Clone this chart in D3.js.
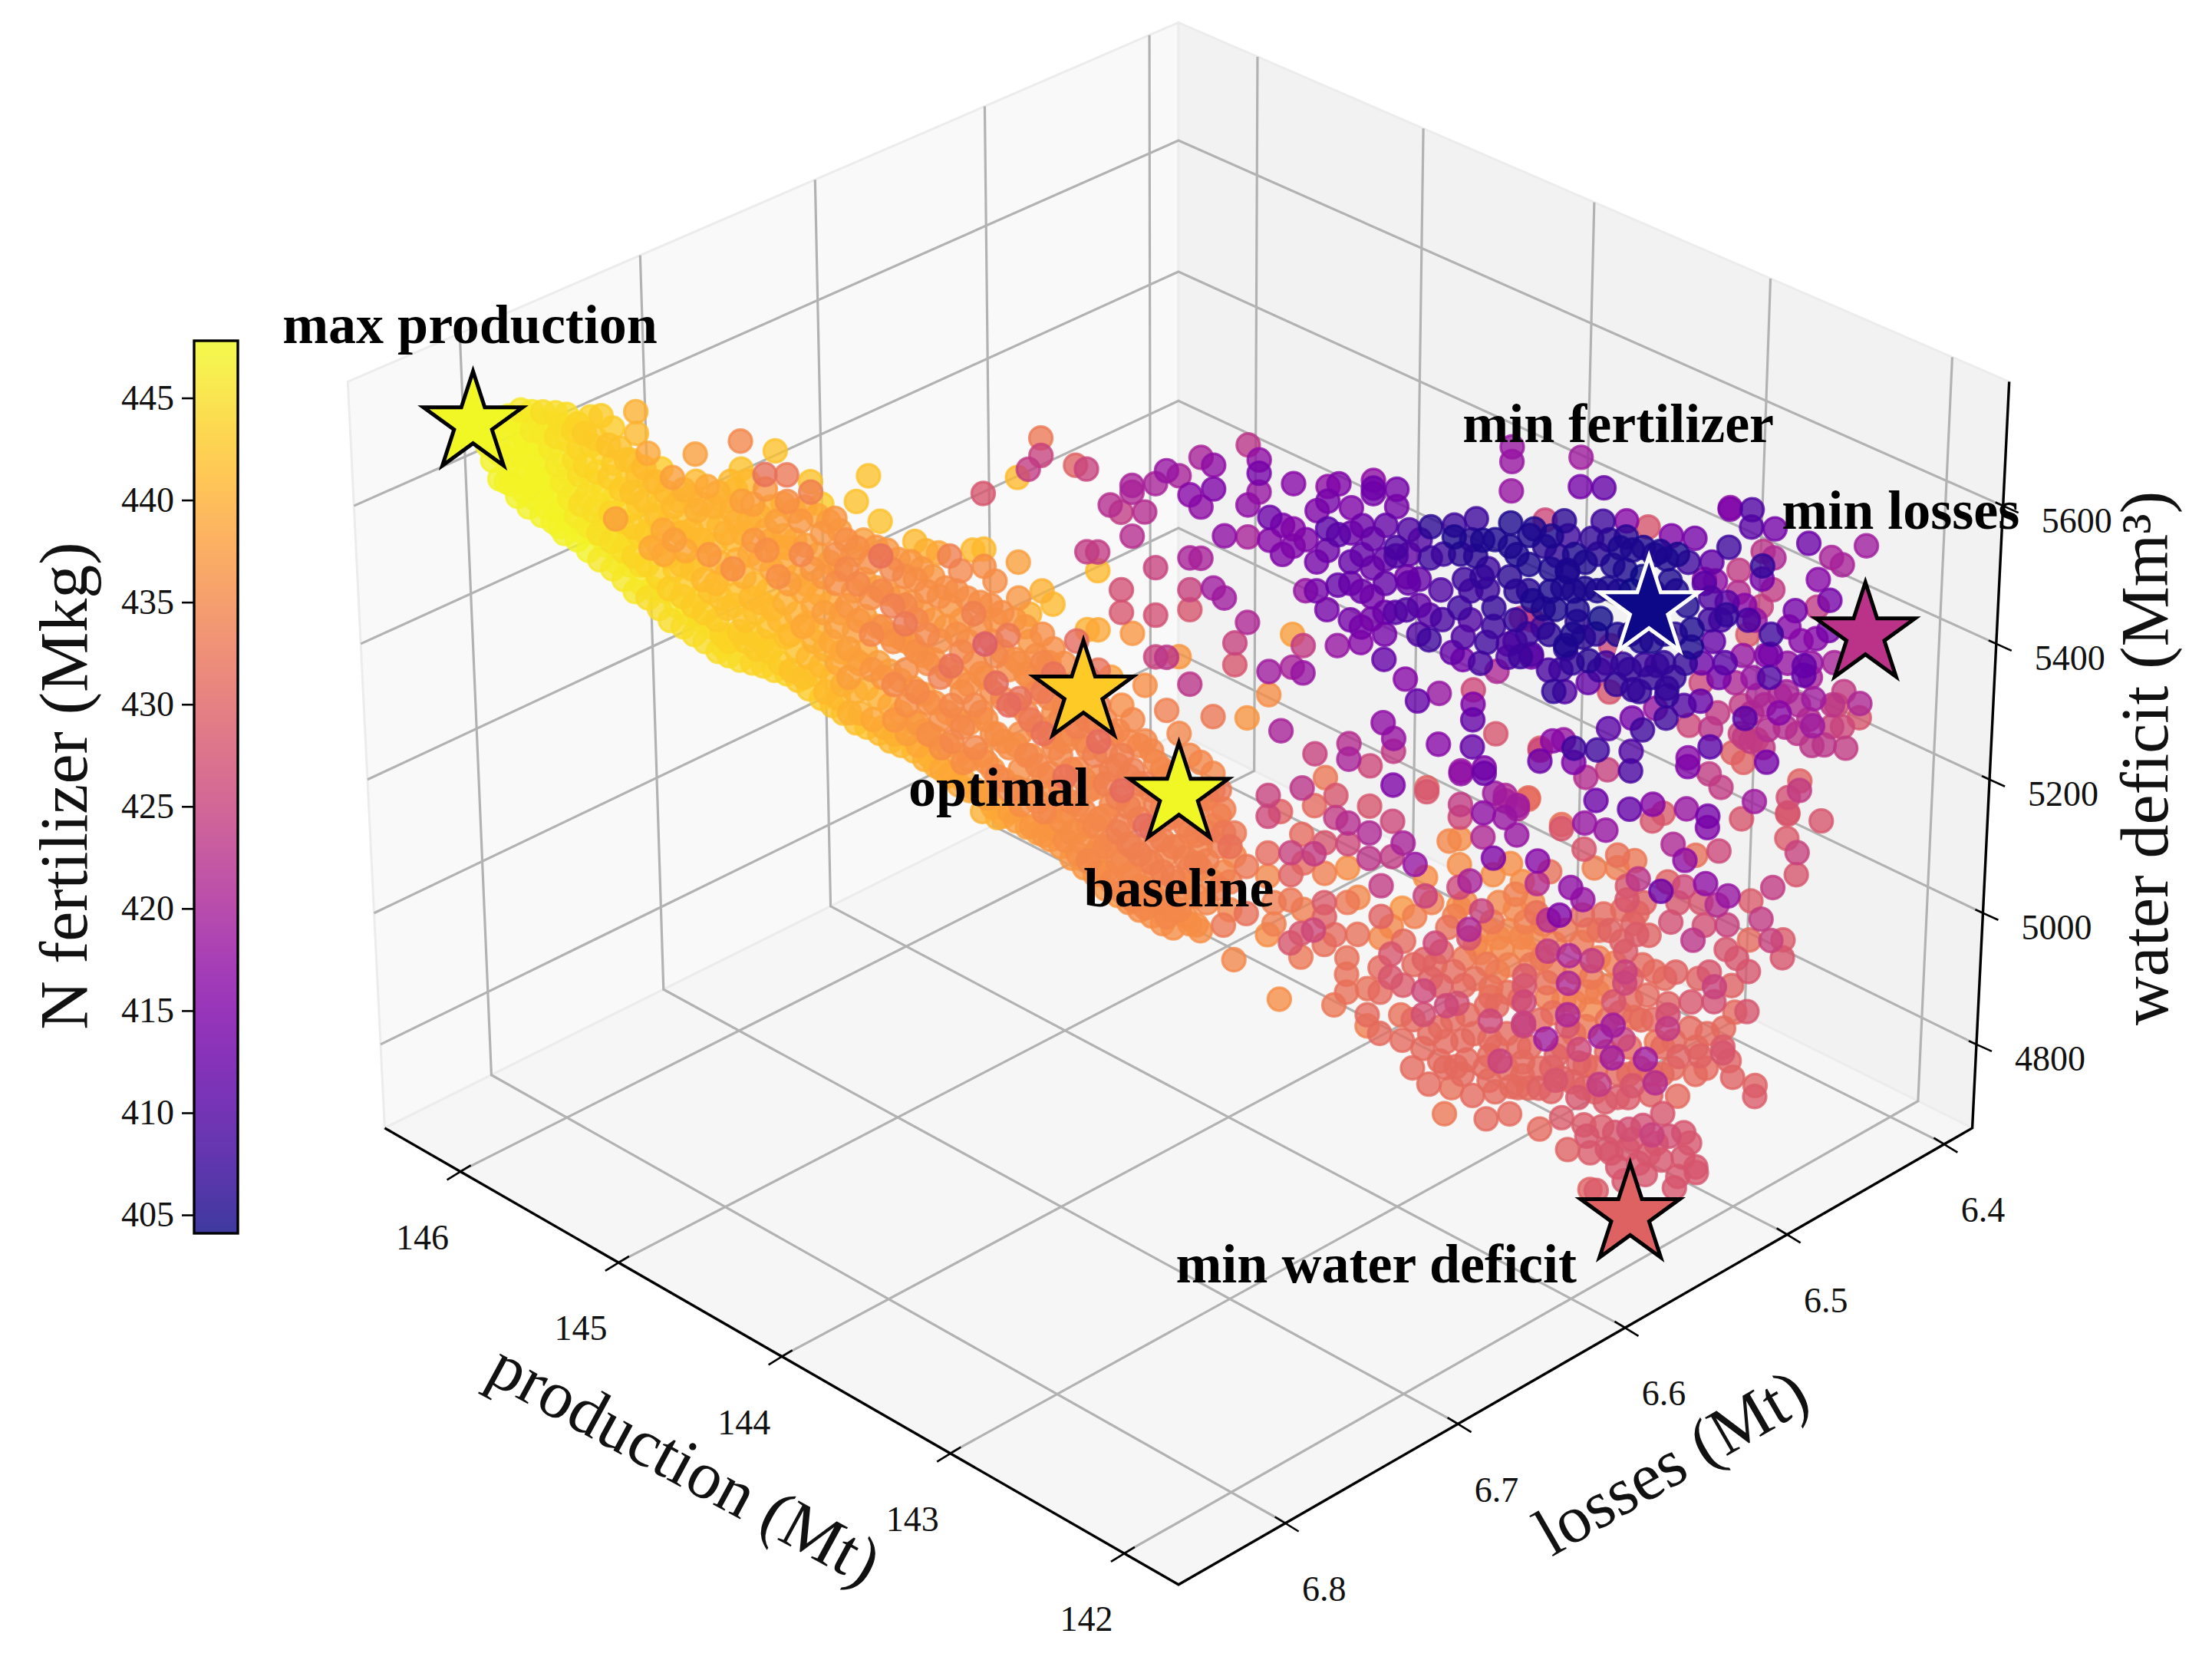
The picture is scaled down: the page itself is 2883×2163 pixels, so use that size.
<!DOCTYPE html>
<html><head><meta charset="utf-8">
<script src="https://cdn.jsdelivr.net/npm/d3@7/dist/d3.min.js"></script>
<style>html,body{margin:0;padding:0;background:#fff}svg{display:block}text{font-family:"Liberation Serif",serif}</style>
</head><body><svg id="c" width="2883" height="2163"></svg>
<script>
const productionTicks=[146,145,144,143,142];
const lossesTicks=[6.4,6.5,6.6,6.7,6.8];
const waterTicks=[4800,5000,5200,5400,5600];
const fertilizerTicks=[405,410,415,420,425,430,435,440,445];
// each row: production, losses, [water, fertilizer, water, fertilizer, ...]
const columns=[
[146.091,6.821,[5723,447,5687,447]],
[146.058,6.818,[5718,447,5676,447,5639,447]],
[146.024,6.815,[5729,447,5695,447,5662,447,5632,447]],
[145.991,6.811,[5737,446,5704,447,5670,447,5620,447]],
[145.958,6.808,[5735,446,5708,446,5674,447,5641,447,5611,447]],
[145.924,6.805,[5735,445,5704,446,5666,447,5632,447,5599,447]],
[145.891,6.801,[5733,445,5699,445,5658,446,5624,447,5591,447,5570,447]],
[145.858,6.798,[5731,445,5695,445,5649,446,5611,446,5578,447]],
[145.824,6.795,[5718,444,5683,444,5645,445,5603,445,5565,447]],
[145.791,6.791,[5727,444,5687,444,5635,445,5593,445,5561,447]],
[145.758,6.788,[5729,443,5676,444,5624,445,5578,446,5544,447]],
[145.724,6.785,[5712,443,5662,443,5614,445,5582,438,5551,446,5519,447]],
[145.691,6.781,[5666,442,5635,443,5593,444,5551,445,5515,446]],
[145.657,6.778,[5735,440,5704,441,5645,442,5603,443,5557,444,5515,445,5488,446]],
[145.624,6.775,[5676,439,5635,442,5586,443,5540,439,5481,446]],
[145.591,6.771,[5653,443,5607,443,5565,439,5530,439,5477,446]],
[145.557,6.768,[5641,438,5599,441,5551,438,5509,443,5456,446]],
[145.524,6.765,[5624,440,5578,442,5536,439,5488,443,5446,446]],
[145.491,6.761,[5674,438,5635,441,5593,440,5551,441,5519,442,5467,444,5435,446]],
[145.457,6.758,[5628,439,5582,441,5530,437,5477,442,5425,445]],
[145.424,6.755,[5620,440,5572,441,5519,440,5467,442,5414,444,5398,445]],
[145.391,6.751,[5635,441,5593,440,5551,441,5509,436,5456,442,5410,444]],
[145.357,6.748,[5693,435,5653,442,5607,438,5561,440,5498,440,5435,442,5404,443]],
[145.324,6.745,[5603,438,5551,437,5488,441,5446,442,5393,443]],
[145.290,6.741,[5645,432,5624,437,5565,439,5536,436,5477,441,5425,442,5389,443]],
[145.257,6.738,[5679,442,5578,438,5540,440,5498,436,5435,441,5372,443]],
[145.224,6.735,[5645,433,5607,436,5540,439,5488,438,5414,441,5362,442]],
[145.190,6.731,[5578,437,5530,435,5477,439,5425,439,5351,442]],
[145.157,6.728,[5635,442,5620,434,5509,437,5456,439,5404,440,5356,442]],
[145.124,6.725,[5603,443,5561,437,5498,437,5446,438,5393,440,5330,441]],
[145.090,6.721,[5582,437,5530,436,5488,436,5425,438,5372,439,5320,441]],
[145.057,6.718,[5551,436,5509,435,5456,437,5393,438,5351,438,5299,440]],
[145.023,6.715,[5607,442,5540,436,5488,435,5435,437,5372,438,5299,440]],
[144.990,6.711,[5643,442,5519,436,5467,436,5414,435,5362,437,5289,439]],
[144.957,6.708,[5578,442,5528,432,5477,435,5425,436,5351,437,5278,440]],
[144.923,6.705,[5509,435,5456,434,5404,436,5341,435,5289,437,5268,440]],
[144.890,6.701,[5498,436,5456,435,5429,433,5404,437,5362,436,5310,436,5268,438]],
[144.857,6.698,[5549,441,5494,436,5435,435,5389,436,5330,435,5284,437,5251,439]],
[144.823,6.695,[5536,440,5477,436,5414,435,5372,436,5314,436,5268,436,5236,440]],
[144.790,6.691,[5532,439,5469,436,5404,436,5351,434,5289,436,5247,436,5215,439]],
[144.756,6.688,[5528,434,5456,437,5368,432,5310,435,5257,435,5209,439]],
[144.723,6.685,[5507,435,5435,437,5389,435,5330,436,5278,435,5226,436,5200,439]],
[144.690,6.681,[5536,441,5444,434,5372,436,5310,435,5247,435,5184,439]],
[144.656,6.678,[5618,428,5538,441,5513,436,5400,429,5351,436,5289,436,5226,436,5173,438]],
[144.623,6.675,[5492,436,5435,437,5383,435,5343,431,5268,436,5205,435,5144,440]],
[144.590,6.671,[5412,433,5362,436,5310,431,5247,436,5184,435,5152,438]],
[144.556,6.668,[5641,441,5519,438,5467,437,5372,436,5320,432,5268,436,5215,436,5163,436]],
[144.523,6.665,[5653,424,5444,440,5404,437,5351,436,5289,433,5236,436,5184,436,5131,437]],
[144.489,6.661,[5697,433,5672,425,5477,440,5414,436,5372,435,5330,433,5268,432,5205,436,5152,435,5117,437]],
[144.456,6.658,[5458,441,5393,436,5356,432,5299,436,5247,435,5184,436,5127,437]],
[144.423,6.655,[5372,436,5310,435,5257,436,5205,432,5152,436,5110,436]],
[144.389,6.651,[5658,430,5404,431,5330,435,5278,434,5215,435,5163,436,5123,437,5089,436]],
[144.356,6.648,[5653,425,5534,424,5421,440,5351,431,5289,434,5247,435,5184,435,5131,436,5079,435]],
[144.323,6.645,[5534,424,5507,441,5421,439,5362,432,5310,434,5257,431,5205,435,5142,435,5100,436,5062,436]],
[144.289,6.641,[5601,422,5351,438,5268,435,5215,434,5163,435,5110,435,5047,435]],
[144.256,6.638,[5591,424,5479,427,5446,428,5310,436,5236,434,5184,431,5131,434,5079,435,5033,435]],
[144.222,6.635,[5630,420,5620,421,5557,422,5416,437,5289,435,5215,434,5163,435,5100,434,5058,435,5020,435]],
[144.189,6.631,[5591,422,5339,436,5257,435,5194,434,5131,431,5079,435,5037,435,5008,435]],
[144.156,6.628,[5632,420,5511,425,5442,427,5381,425,5226,435,5163,434,5110,434,5058,435,5016,435]],
[144.122,6.625,[5651,418,5381,423,5303,434,5205,435,5142,434,5089,435,5037,435,4995,435]],
[144.089,6.621,[5643,420,5381,437,5268,435,5184,435,5100,435,5047,435,5005,435]],
[144.056,6.618,[5616,416,5525,420,5479,425,5450,428,5341,423,5236,435,5121,435,5068,435,4984,436]],
[144.022,6.615,[5670,420,5599,417,5525,420,5226,435,5171,435,5100,435,5068,435,4974,436]],
[143.989,6.611,[5658,417,5624,415,5481,419,5293,433,5209,435,5184,434,5131,435,5047,435]],
[143.955,6.608,[5557,417,5467,419,5156,434,5121,433,5062,435,4982,433]],
[143.922,6.605,[5402,425,5370,428,5121,433,5087,435,4930,435]],
[143.889,6.601,[5687,423,5601,417,5555,420,5431,421,5291,437,5070,433,4999,432]],
[143.855,6.598,[5666,417,5647,414,5620,418]],
[143.822,6.595,[5584,413,5551,416,5360,419,5326,436,5177,425,5146,426,5091,431,5056,435,4968,436]],
[143.789,6.591,[5272,420,5152,430,4869,436]],
[143.755,6.588,[5632,416,5567,416,5542,415,5414,438,5366,420,5091,425,5058,430,5020,433,4955,428]],
[143.722,6.585,[5398,424,5358,418,5188,423,5119,431,4970,428,4934,433]],
[143.688,6.581,[5238,425,5161,431,5089,424,4974,426]],
[143.655,6.578,[5628,417,5607,414,5567,411,5536,413,5450,414,5203,433,5106,428,5060,434,5016,429]],
[143.622,6.575,[5632,415,5559,411,5486,412,5398,418,5177,428,5144,424,4968,431,4861,433]],
[143.588,6.571,[5597,415,5519,412,5253,422,5230,420,5135,422,5104,426,5068,436,4907,432]],
[143.555,6.568,[5402,416,5024,435,4968,432]],
[143.522,6.565,[5637,417,5626,413,5618,414,5553,412,5511,413,5469,414,5437,414,5221,426,5161,428,5121,421,5083,423,4886,432,4846,431,4829,434]],
[143.488,6.561,[5523,412,5377,412,5284,417,5041,424,4917,431]],
[143.455,6.558,[5624,414,5599,414,5540,409,5528,410,5446,411,5261,418,5242,424,5192,415,5138,426,5085,424,4980,435,4938,428,4903,428]],
[143.421,6.555,[5498,414,5450,410,5349,416,5106,420,5008,437,4846,432]],
[143.388,6.551,[5494,412,5316,412,5073,418]],
[143.355,6.548,[5570,406,5525,408,5442,411,5406,408,5188,430,5182,428,5054,436,5026,425,4930,430,4882,426,4846,427,4794,431]],
[143.321,6.545,[5479,410,5328,418,5253,416,4955,426,4922,431]],
[143.288,6.541,[5572,408,5555,405,5387,412,5108,435,4978,432,4859,426,4804,431,4764,431]],
[143.255,6.538,[5494,408,5410,410,5377,414,5213,418,5209,417,5163,424,5144,426,5112,436,5073,436,5039,426,5010,436,4863,427,4766,431]],
[143.221,6.535,[5582,408,5528,406,5333,426,5312,415,5289,412,5249,412,5049,420,4976,421,4963,428,4846,431,4777,431]],
[143.188,6.531,[5509,408,5479,408,5402,408,5217,415,5209,413,5150,417,5114,421,5003,425,4940,436]],
[143.154,6.528,[5360,421,5268,428,5180,419,5083,415,5058,436,4987,433,4888,432,4873,432,4836,426,4808,431,4783,431,4745,431]],
[143.121,6.525,[5685,418,5664,418,5622,418,5576,405,5542,405,5498,406,5400,410,5381,410,5177,421,5169,420,5144,418,4947,435,4775,425]],
[143.088,6.521,[5437,424,5381,408,5161,419,5156,421,5117,418,5028,434,5005,435,4735,431]],
[143.054,6.518,[5567,405,5463,405,5435,428,5385,410,5381,414,5173,431,5171,432,4987,434,4945,435,4905,429,4890,428,4865,426,4833,425,4829,425,4773,431,4752,431]],
[143.021,6.515,[5580,426,5542,406,5452,405,5425,408,5247,429,5244,426,5228,413,5079,416,5045,422,5001,432]],
[142.988,6.511,[5528,407,5450,405,5330,407,5257,416,5062,432,4989,422,4942,424,4894,432,4871,434,4808,419]],
[142.954,6.508,[5557,408,5507,405,5505,405,5398,405,5393,407,5330,410,5259,418,5133,432,5127,428,4997,415,4783,430,4745,428]],
[142.921,6.505,[5670,419,5628,414,5450,405,5433,406,5247,408,5226,415,5039,417,4936,421,4894,421,4846,421,4829,428]],
[142.887,6.501,[5553,407,5375,406,5343,412,5203,422,5135,418,5096,428,5020,418,4997,431,4955,433,4792,426,4771,430,4718,428]],
[142.854,6.498,[5626,412,5578,408,5437,404,5362,408,5244,408,5169,413,5068,434,4928,424,4903,433,4854,435]],
[142.821,6.495,[5515,405,5398,426,5330,428,5276,411,5215,425,5125,418,4999,431,4813,419,4739,424]],
[142.787,6.491,[5578,416,5555,406,5507,405,5370,407,5087,432,5068,434,4924,434,4865,428,4829,419,4779,419]],
[142.754,6.488,[5333,407,5291,414,5242,410,5213,409,5156,412,5041,428,5020,428,4942,429,4911,425,4894,426,4808,425]],
[142.721,6.485,[5570,428,5370,408,5274,408,5052,423,5001,431,4968,429,4842,434,4737,428]],
[142.687,6.481,[5534,405,5368,408,5305,418,5163,416,5138,428,4966,430,4875,431,4777,419]],
[142.654,6.478,[5557,415,5492,405,5335,407,5324,407,5291,408,5150,429,5033,413,4804,433,4741,422]],
[142.620,6.475,[5104,421,4987,427,4863,430,4846,427,4825,424]],
[142.587,6.471,[5553,414,5421,405,5395,405,5280,426,5232,416,5219,415,5156,418,5079,417,5039,426,4781,430,4720,431]],
[142.554,6.468,[5494,418,5488,411,5372,413,5343,426,5316,412,5087,432,4959,423,4865,428,4825,431]],
[142.520,6.465,[5492,417,5404,412,5276,423,5249,411,5209,424,5146,414,5129,415,5045,417,4982,427,4783,430]],
[142.487,6.461,[5597,417,5595,415,5540,408,5460,411,5442,407,5372,411,5188,424,5093,426,5012,422,4888,425,4865,427]],
[142.454,6.458,[5507,424,5475,422,5343,421,5240,430,5026,418,4982,425,4945,428,4825,431,4796,429,4787,428]],
[142.420,6.455,[5595,410,5570,411,5435,409,5414,429,5291,411,5263,424,5226,430,5142,428,4932,428,4850,431,4750,430]],
[142.387,6.451,[5534,423,5513,407,5494,414,5454,425,5324,421,5259,427,5167,419,5018,429,4959,431,4911,428,4850,428]],
[142.353,6.448,[5567,414,5525,421,5479,424,5414,408,5385,414,5351,410,5274,422,5226,414,4991,424,4737,430,4720,429]],
[142.320,6.445,[5324,421,5299,416,5039,424,4959,425]],
[142.287,6.441,[5448,414,5173,427,5150,428,5148,429,5112,429,4959,429,4932,428]],
[142.253,6.438,[5546,413,5368,412,5354,412,5198,430,5184,424,5091,425,5058,428]],
[142.220,6.435,[5494,416,5454,424,5408,416,5320,419,5280,419,5251,423]],
[142.187,6.431,[5525,420,5463,414,5419,414,5251,423,5138,428]],
[142.153,6.428,[5515,420,5310,427]],
[142.120,6.425,[5247,424]],
[142.087,6.421,[5542,419,5312,421,5291,428]]
];
// dense main band: production, losses, [water, fertilizer, ...]
const bandColumns=[
[146.075,6.820,[5704,447,5666,447]],
[146.041,6.816,[5712,447,5670,447,5635,447]],
[146.008,6.813,[5721,447,5683,447,5645,447,5614,447]],
[145.975,6.810,[5723,447,5691,447,5653,447,5628,447,5599,447]],
[145.941,6.806,[5721,447,5687,447,5649,447,5620,447,5586,447]],
[145.908,6.803,[5718,446,5683,446,5641,447,5607,447,5578,447]],
[145.874,6.800,[5716,445,5674,446,5635,446,5599,447,5561,447]],
[145.841,6.796,[5708,444,5666,445,5624,446,5586,446,5551,447]],
[145.808,6.793,[5704,443,5658,444,5614,445,5572,446,5536,447]],
[145.774,6.790,[5697,443,5649,444,5603,445,5561,445,5523,446]],
[145.741,6.786,[5687,442,5641,443,5590,444,5549,445,5509,446]],
[145.707,6.783,[5683,442,5624,443,5578,444,5536,445,5494,446]],
[145.674,6.780,[5666,442,5620,442,5570,443,5528,444,5477,446]],
[145.641,6.776,[5655,441,5607,442,5561,443,5515,444,5467,445]],
[145.607,6.773,[5635,441,5586,442,5544,442,5498,444,5452,445]],
[145.574,6.770,[5620,441,5574,442,5528,442,5481,443,5435,445]],
[145.540,6.766,[5607,441,5561,441,5515,442,5469,443,5425,445]],
[145.507,6.763,[5614,441,5565,441,5509,442,5456,443,5414,445]],
[145.474,6.760,[5603,440,5551,441,5494,441,5446,443,5404,445]],
[145.440,6.756,[5599,440,5544,441,5488,441,5435,443,5389,445]],
[145.407,6.753,[5607,441,5561,440,5502,441,5452,442,5404,444,5383,445]],
[145.373,6.750,[5624,441,5578,440,5523,440,5473,442,5419,443,5377,445]],
[145.340,6.746,[5635,441,5578,440,5530,439,5467,441,5414,443,5372,444]],
[145.307,6.743,[5586,440,5523,439,5460,441,5404,443,5368,444]],
[145.273,6.740,[5599,440,5551,439,5509,439,5452,441,5398,443,5362,444]],
[145.240,6.736,[5603,440,5557,439,5515,439,5460,440,5410,442,5356,444]],
[145.206,6.733,[5593,439,5551,439,5498,439,5444,440,5389,442,5347,443]],
[145.173,6.730,[5599,439,5544,438,5488,439,5431,440,5381,441,5335,443]],
[145.140,6.726,[5586,439,5530,438,5473,439,5419,440,5368,441,5320,443]],
[145.106,6.723,[5578,438,5519,438,5460,439,5404,439,5351,441,5310,442]],
[145.073,6.720,[5565,438,5509,438,5446,438,5389,439,5341,440,5299,442]],
[145.039,6.716,[5530,438,5477,438,5419,438,5377,439,5330,440,5284,442]],
[145.006,6.713,[5551,438,5494,438,5440,438,5389,439,5335,440,5278,442]],
[144.973,6.709,[5540,437,5481,438,5425,438,5372,438,5320,440,5268,441]],
[144.939,6.706,[5536,437,5473,438,5414,438,5360,438,5310,439,5257,441]],
[144.906,6.703,[5523,437,5467,437,5410,438,5347,438,5299,439,5251,441]],
[144.872,6.699,[5519,437,5460,437,5398,437,5335,438,5284,439,5242,441]],
[144.839,6.696,[5509,437,5446,437,5383,437,5326,438,5272,438,5230,440]],
[144.806,6.693,[5498,437,5435,437,5377,437,5314,437,5263,438,5221,440]],
[144.772,6.689,[5481,436,5425,437,5362,437,5299,437,5251,438,5205,440]],
[144.739,6.686,[5477,436,5414,436,5351,437,5289,437,5236,438,5192,439]],
[144.705,6.683,[5467,436,5404,436,5341,436,5284,437,5230,437,5184,439]],
[144.672,6.679,[5460,436,5425,436,5356,436,5299,436,5236,437,5180,438,5152,440]],
[144.639,6.676,[5456,436,5404,436,5330,436,5268,436,5215,437,5159,439]],
[144.605,6.673,[5446,436,5389,436,5320,435,5257,436,5200,437,5146,439]],
[144.572,6.669,[5435,437,5377,436,5310,435,5251,436,5188,436,5138,438]],
[144.538,6.666,[5425,437,5356,436,5299,435,5236,435,5180,436,5129,438]],
[144.505,6.663,[5383,436,5330,435,5278,435,5221,435,5167,436,5121,438]],
[144.472,6.659,[5372,436,5320,435,5263,435,5209,435,5152,436,5110,437]],
[144.438,6.656,[5341,435,5289,435,5236,435,5188,435,5138,436,5100,437]],
[144.405,6.653,[5320,435,5268,435,5215,435,5167,435,5121,436,5083,437]],
[144.371,6.649,[5299,435,5257,435,5200,435,5152,435,5104,436,5068,437]],
[144.338,6.646,[5284,435,5236,434,5188,435,5131,435,5089,436,5058,437]],
[144.305,6.643,[5289,435,5242,434,5194,434,5146,435,5100,435,5062,436,5037,437]],
[144.271,6.639,[5272,435,5221,434,5173,434,5121,434,5075,435,5026,437]],
[144.238,6.636,[5257,435,5205,434,5159,434,5104,434,5058,435,5016,436]],
[144.204,6.633,[5251,435,5194,434,5142,434,5089,434,5041,435,5005,436]],
[144.171,6.629,[5242,435,5184,434,5125,434,5075,434,5028,435,4995,436]],
[144.138,6.626,[5215,435,5159,434,5110,434,5062,434,5016,435,4984,436]],
[144.104,6.623,[5209,435,5146,434,5100,434,5054,434,5005,435,4978,436]],
[144.071,6.619,[5184,434,5131,434,5083,434,5037,435,4995,436]],
[144.037,6.616,[5159,434,5117,434,5075,434,5026,435,4982,436]],
[144.004,6.613,[5173,434,5121,434,5079,434,5016,435]],
[143.971,6.609,[5184,433,5146,434,5100,434,5037,434]],
[143.937,6.606,[5100,432,5047,434,5005,435]]
];
// lower right cloud: production, losses, [water, fertilizer, ...]
const lowerColumns=[
[143.804,6.593,[5016,434,4984,434]],
[143.720,6.584,[5075,431,5005,434]],
[143.653,6.578,[4995,430,4953,432]],
[143.587,6.571,[5016,433,4932,432,4880,432]],
[143.486,6.561,[4995,430,4963,435,4880,431,4817,431]],
[143.420,6.554,[4957,431,4890,429,4806,431]],
[143.386,6.551,[4995,434,4922,431,4838,431,4764,431]],
[143.336,6.546,[5016,434,4901,430,4817,431,4739,431]],
[143.303,6.543,[4942,430,4890,430,4827,431,4775,431]],
[143.269,6.539,[4995,434,4911,431,4838,431,4733,432]],
[143.236,6.536,[5016,435,4932,433,4890,431,4806,431,4754,431]],
[143.202,6.533,[4953,435,4901,432,4817,431,4722,431]],
[143.169,6.529,[4974,435,4922,433,4859,431,4764,431]],
[143.136,6.526,[5016,435,4963,436,4911,434,4859,431,4796,431,4727,431]],
[143.102,6.523,[5075,436,4974,435,4922,434,4880,432,4817,431,4764,431]],
[143.069,6.519,[5047,436,4963,435,4869,431,4796,431,4733,431]],
[143.035,6.516,[5016,435,4963,435,4922,433,4796,431,4733,431]],
[143.002,6.513,[4984,434,4932,433,4838,431,4764,431,4733,430]],
[142.969,6.509,[4953,434,4911,433,4848,432,4764,430,4727,430]],
[142.935,6.506,[4974,433,4869,434,4796,431,4748,430]],
[142.902,6.503,[4911,434,4865,434,4817,432,4743,430]],
[142.868,6.499,[4974,433,4880,434,4827,433,4768,431,4733,430]],
[142.835,6.496,[4974,432,4932,434,4880,434,4764,431,4727,430]],
[142.802,6.493,[4974,430,4890,434,4838,432,4789,431,4712,429]],
[142.768,6.489,[5005,431,4957,430,4848,431,4754,431,4718,429]],
[142.735,6.486,[5079,433,4984,430,4901,430,4869,431,4796,431,4754,431,4718,429]],
[142.701,6.483,[5016,430,4922,431,4838,431,4764,431]],
[142.668,6.479,[4911,431,4838,431,4754,431,4722,430]],
[142.635,6.476,[5047,430,4901,431,4796,431,4754,431]],
[142.601,6.473,[5016,428,4911,430,4806,431,4764,431]],
[142.534,6.466,[5016,428,4901,430,4796,431,4754,431]],
[142.501,6.463,[4911,428,4817,431,4764,431]],
[142.434,6.456,[4890,430,4775,430]]
];
// upper purple cloud: production, losses, [water, fertilizer, ...]
const upperColumns=[
[143.787,6.591,[5572,415,5530,415]],
[143.720,6.584,[5551,415,5477,418]],
[143.687,6.581,[5593,415,5519,414,5477,414]],
[143.587,6.571,[5561,413,5488,413,5435,414]],
[143.553,6.568,[5572,413,5530,412,5477,413,5425,414]],
[143.486,6.561,[5572,412,5488,412,5446,413,5414,414]],
[143.420,6.554,[5565,410,5530,412,5488,412]],
[143.386,6.551,[5551,410,5456,412,5414,410]],
[143.319,6.544,[5530,408,5435,409]],
[143.269,6.539,[5530,406,5452,408]],
[143.236,6.536,[5551,406,5477,408,5435,410]],
[143.202,6.533,[5551,405,5498,407,5372,409]],
[143.169,6.529,[5551,405,5452,407,5425,408]],
[143.102,6.523,[5530,405,5477,406,5435,407,5404,409]],
[143.069,6.519,[5557,405,5515,405,5477,406,5414,408]],
[143.002,6.513,[5557,405,5509,405,5477,405,5414,406,5362,409]],
[142.969,6.509,[5578,406,5481,405,5362,408]],
[142.935,6.506,[5530,405,5477,405,5414,405,5372,407]],
[142.902,6.503,[5519,405,5481,405,5410,406]],
[142.868,6.499,[5530,406,5477,405,5414,406]],
[142.835,6.496,[5551,406,5481,405,5372,408]],
[142.802,6.493,[5540,405,5477,405,5414,405,5341,407]],
[142.768,6.489,[5536,405,5477,404,5414,405,5362,407]],
[142.735,6.486,[5540,405,5498,404,5404,405,5330,407]],
[142.701,6.483,[5530,405,5477,405,5404,405,5351,407]],
[142.668,6.479,[5523,405,5414,405,5372,407]],
[142.635,6.476,[5530,405,5477,405,5414,406,5351,407]],
[142.601,6.473,[5519,408,5456,405,5372,407,5310,410]],
[142.534,6.466,[5519,412,5467,410,5435,408]],
[142.501,6.463,[5435,409,5351,414,5299,424]],
[142.434,6.456,[5456,416,5383,418,5310,424,5268,425]],
[142.401,6.453,[5435,418,5351,418,5299,422,5257,424]],
[142.367,6.449,[5383,416,5310,421,5247,424]],
[142.301,6.443,[5425,416,5372,418,5330,420,5278,422]],
[142.267,6.439,[5404,416,5310,421,5268,423]],
[142.234,6.436,[5372,418,5351,420,5289,422]],
[142.167,6.429,[5372,420,5310,423,5278,425]],
[142.134,6.426,[5330,424,5278,426]]
];
// each row: production, losses, water, fertilizer (low water-deficit tail)
const lowTail=[
[142.353,6.583,4855,431],[142.633,6.611,4878,433],[142.508,6.599,4871,431],[142.441,6.592,4878,431],
[142.286,6.577,4873,429],[142.266,6.575,4825,430],[142.215,6.569,4844,428],[142.169,6.565,4859,429],
[142.090,6.557,4855,427],[142.023,6.550,4846,425],[141.994,6.547,4878,428],[141.927,6.541,4850,428],
[141.973,6.545,4844,427],[142.153,6.563,4825,428],[142.094,6.557,4825,428],[142.032,6.551,4817,428],
[141.927,6.541,4813,428],[141.890,6.537,4798,428],[142.140,6.562,4819,429],[142.036,6.552,4787,428],
[142.182,6.566,4762,429],[141.952,6.543,4766,428],[142.199,6.568,4764,430],[141.944,6.542,4783,428],
[141.886,6.537,4790,428],[142.099,6.558,4777,428],[142.119,6.560,4798,428],[141.994,6.547,4808,428],
[142.203,6.568,4819,429],[142.078,6.556,4840,428],[142.007,6.549,4834,428],[142.057,6.554,4804,428],
[141.911,6.539,4834,428],[142.132,6.561,4850,428],[142.048,6.553,4861,427],[142.224,6.570,4861,429]
];
const starNames=["max production","min fertilizer","min losses","optimal","baseline","min water deficit"];
const starProduction=[146.13,142.713,142.31,144.371,144.09,142.078];
const starLosses=[6.825,6.484,6.393,6.649,6.621,6.556];
const starWater=[5718,5452,5352,5328,5177,4725];
const starFertilizer=[447.5,404.2,423,443,447.5,430];
const starEdge=["#000","#fff","#000","#000","#000","#000"];
const labelDx=[-4,-40,46,-110,0,-331];
const labelDy=[-129,-241,-162,123,121,64];

const svg=d3.select("#c");
const sP=d3.scaleLinear().domain([141.693,146.487]).range([-1,1]);
const sL=d3.scaleLinear().domain([6.382,6.8605]).range([-1,1]);
const sW=d3.scaleLinear().domain([4671,5777]).range([-0.75,0.75]);
const fertDomain=[404.1,447.8];
const color=d3.scaleSequential(d3.interpolatePlasma).domain(fertDomain);
const K=12345,D=16.5,CX=1536,CY=994.7,SIN=0.5,COS=Math.sqrt(3)/2,R2=Math.SQRT2;
function project(p,l,w){
  const pn=sP(p),ln=sL(l),z=sW(w);
  const r=-(pn+ln)/R2,n=(ln-pn)/R2;
  const up=z*COS-n*SIN,c=n*COS+z*SIN,m=K/(D-c);
  return [CX+m*r,CY-m*up];
}
const Pmin=sP.domain()[0],Pmax=sP.domain()[1],Lmin=sL.domain()[0],Lmax=sL.domain()[1],Wmin=sW.domain()[0],Wmax=sW.domain()[1];
const poly=(pts,fill)=>svg.append("polygon").attr("points",pts.map(a=>project(...a).join(",")).join(" ")).attr("fill",fill).attr("stroke","#ececec").attr("stroke-width",3);
poly([[Pmax,Lmax,Wmin],[Pmax,Lmin,Wmin],[Pmax,Lmin,Wmax],[Pmax,Lmax,Wmax]],"#f9f9f9");
poly([[Pmax,Lmin,Wmin],[Pmin,Lmin,Wmin],[Pmin,Lmin,Wmax],[Pmax,Lmin,Wmax]],"#f2f2f2");
poly([[Pmax,Lmax,Wmin],[Pmin,Lmax,Wmin],[Pmin,Lmin,Wmin],[Pmax,Lmin,Wmin]],"#f6f6f6");
const line3=(pts,stroke,w)=>svg.append("polyline").attr("points",pts.map(a=>project(...a).join(",")).join(" ")).attr("fill","none").attr("stroke",stroke).attr("stroke-width",w).attr("stroke-linejoin","miter");
const GRID="#b2b2b2",GW=3.2;
productionTicks.forEach(t=>line3([[t,Lmax,Wmin],[t,Lmin,Wmin],[t,Lmin,Wmax]],GRID,GW));
lossesTicks.forEach(t=>line3([[Pmin,t,Wmin],[Pmax,t,Wmin],[Pmax,t,Wmax]],GRID,GW));
waterTicks.forEach(t=>line3([[Pmax,Lmax,t],[Pmax,Lmin,t],[Pmin,Lmin,t]],GRID,GW));

const dots=[];
[columns,bandColumns,lowerColumns,upperColumns].forEach(tbl=>tbl.forEach(([p,l,vals])=>{for(let i=0;i<vals.length;i+=2)dots.push({p,l,w:vals[i],f:vals[i+1]});}));
lowTail.forEach(([p,l,w,f])=>dots.push({p,l,w,f}));
dots.sort((a,b)=>d3.descending(a.f,b.f));
svg.append("g").selectAll("circle").data(dots).join("circle")
 .attr("cx",d=>project(d.p,d.l,d.w)[0]).attr("cy",d=>project(d.p,d.l,d.w)[1])
 .attr("r",15).attr("fill",d=>color(d.f)).attr("fill-opacity",.78)
 .attr("stroke",d=>color(d.f)).attr("stroke-opacity",.78).attr("stroke-width",3.4);

const spine=[[Pmax,Lmax,Wmin],[Pmin,Lmax,Wmin],[Pmin,Lmin,Wmin],[Pmin,Lmin,Wmax]];
line3(spine,"#000",3.4);
const tickLine=(a,d0,d1)=>svg.append("line").attr("x1",a[0]+d0[0]).attr("y1",a[1]+d0[1]).attr("x2",a[0]+d1[0]).attr("y2",a[1]+d1[1]).attr("stroke","#000").attr("stroke-width",2.6);
const tickText=(a,off,s)=>svg.append("text").attr("x",a[0]+off[0]).attr("y",a[1]+off[1]).attr("text-anchor","middle").attr("dominant-baseline","central").attr("font-size",46).attr("fill","#111").text(s);
productionTicks.forEach(t=>{const a=project(t,Lmax,Wmin);tickLine(a,[-17,11],[14,-8]);tickText(a,[-49,86],d3.format("d")(t));});
lossesTicks.forEach(t=>{const a=project(Pmin,t,Wmin);tickLine(a,[17,11],[-14,-8]);tickText(a,[50,86],d3.format(".1f")(t));});
waterTicks.forEach(t=>{const a=project(Pmin,Lmin,t);tickLine(a,[20,9],[-10,-4.6]);tickText(a,[96,19],d3.format("d")(t));});

const axisLabel=(x,y,rot,s)=>svg.append("text").attr("transform",`translate(${x},${y}) rotate(${rot})`).attr("text-anchor","middle").attr("dominant-baseline","central").attr("font-size",88).attr("fill","#111").text(s);
axisLabel(893,1907,28.5,"production (Mt)");
axisLabel(2178,1905,-30,"losses (Mt)");
axisLabel(2795,988,-90,"water deficit (Mm³)");
axisLabel(83,1024,-90,"N fertilizer (Mkg)");

const starPath=d3.symbol().type(d3.symbolStar).size(5190)();
starNames.forEach((name,i)=>{
  const a=project(starProduction[i],starLosses[i],starWater[i]);
  svg.append("path").attr("d",starPath).attr("transform",`translate(${a[0]},${a[1]})`).attr("fill",color(starFertilizer[i])).attr("stroke",starEdge[i]).attr("stroke-width",5).attr("stroke-linejoin","miter");
});
starNames.forEach((name,i)=>{
  const a=project(starProduction[i],starLosses[i],starWater[i]);
  svg.append("text").attr("x",a[0]+labelDx[i]).attr("y",a[1]+labelDy[i]).attr("text-anchor","middle").attr("dominant-baseline","central").attr("font-size",72).attr("font-weight","bold").attr("fill","#000").text(name);
});

const barX=253,barW=57;
const barY=d3.scaleLinear().domain(fertDomain).range([1607,444]);
const defs=svg.append("defs");
const grad=defs.append("linearGradient").attr("id","cb").attr("x1",0).attr("y1",1).attr("x2",0).attr("y2",0);
d3.range(0,1.0001,0.05).forEach(t=>grad.append("stop").attr("offset",t).attr("stop-color",d3.interpolatePlasma(t)).attr("stop-opacity",.8));
svg.append("rect").attr("x",barX).attr("y",444).attr("width",barW).attr("height",1163).attr("fill","url(#cb)").attr("stroke","#000").attr("stroke-width",3.4);
const ax=svg.append("g").attr("transform",`translate(${barX},0)`).call(d3.axisLeft(barY).tickValues(fertilizerTicks).tickSize(16).tickPadding(10).tickFormat(d3.format("d")));
ax.select(".domain").remove();
ax.selectAll("line").attr("stroke","#000").attr("stroke-width",2.6);
ax.selectAll("text").attr("font-size",46).attr("font-family","Liberation Serif").attr("fill","#111");
</script></body></html>
